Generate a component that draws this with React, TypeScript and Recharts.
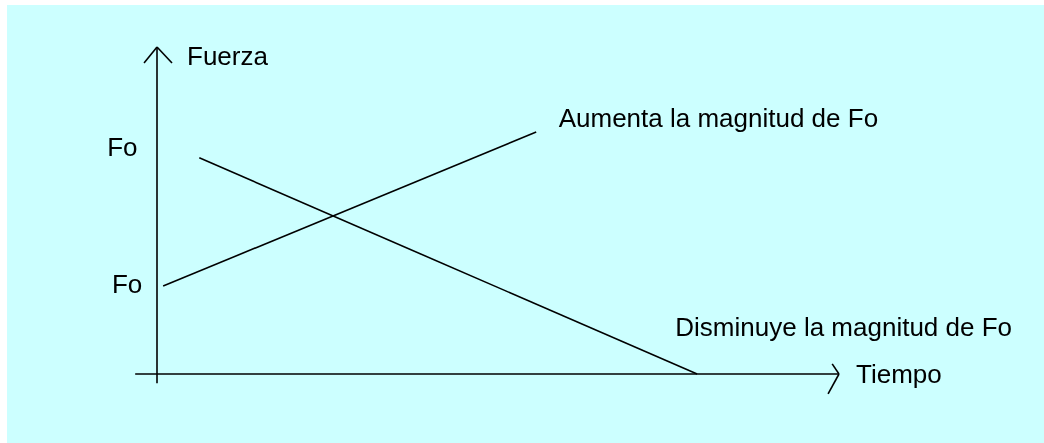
import React from 'react'
import { ComposedChart, Line, XAxis, YAxis, ReferenceLine, ReferenceDot } from 'recharts'

// two force lines, time on x, force on y (arbitrary units)
const aumentaT = [0.09, 5.56]
const aumentaF = [2.69, 7.4]
const disminuyeT = [0.62, 7.92]
const disminuyeF = [6.61, 0]

const aumenta = aumentaT.map((t, i) => ({ t, f: aumentaF[i] }))
const disminuye = disminuyeT.map((t, i) => ({ t, f: disminuyeF[i] }))

const FONT = '"Liberation Sans", Arial, sans-serif'

const textAt = (value: string) => (props: any) => {
  const vb = props.viewBox || {}
  return (
    <text x={vb.x} y={vb.y} fontSize={26} fontFamily={FONT} fill="#000">
      {value}
    </text>
  )
}

export default function App() {
  const seg = (a: [number, number], b: [number, number], key: string) => (
    <ReferenceLine
      key={key}
      segment={[{ x: a[0], y: a[1] }, { x: b[0], y: b[1] }]}
      stroke="#000"
      strokeWidth={1.6}
      ifOverflow="visible"
    />
  )
  const label = (x: number, y: number, value: string) => (
    <ReferenceDot key={value + y} x={x} y={y} r={0} ifOverflow="visible" stroke="none" label={textAt(value)} />
  )
  return (
    <div style={{ position: 'absolute', left: 0, top: 0, width: 1044, height: 443 }}>
      <div style={{ position: 'fixed', left: 7, top: 5, width: 1200, height: 600, background: '#ccffff' }} />
      <div style={{ position: 'absolute', left: 0, top: 0 }}>
        <ComposedChart width={1044} height={443} margin={{ top: 47, right: 205, bottom: 69, left: 157 }}>
          <XAxis type="number" dataKey="t" domain={[0, 10]} hide />
          <YAxis type="number" dataKey="f" domain={[0, 10]} hide />
          {seg([-0.32, 0], [10, 0], 'xa')}
          {seg([0, -0.28], [0, 10], 'ya')}
          {seg([0, 10], [-0.19, 9.51], 'ya1')}
          {seg([0, 10], [0.22, 9.51], 'ya2')}
          {seg([10, 0], [9.9, 0.31], 'xa1')}
          {seg([10, 0], [9.84, -0.61], 'xa2')}
          <Line data={aumenta} dataKey="f" type="linear" stroke="#000" strokeWidth={1.6} dot={false} isAnimationActive={false} />
          <Line data={disminuye} dataKey="f" type="linear" stroke="#000" strokeWidth={1.6} dot={false} isAnimationActive={false} />
          {label(0.44, 9.45, 'Fuerza')}
          {label(-0.73, 6.67, 'Fo')}
          {label(-0.66, 2.48, 'Fo')}
          {label(5.89, 7.55, 'Aumenta la magnitud de Fo')}
          {label(7.6, 1.16, 'Disminuye la magnitud de Fo')}
          {label(10.25, -0.28, 'Tiempo')}
        </ComposedChart>
      </div>
    </div>
  )
}
